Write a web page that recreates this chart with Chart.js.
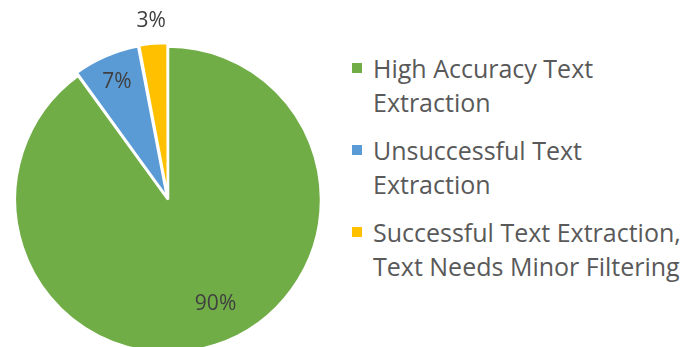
<!DOCTYPE html>
<html>
<head>
<meta charset="utf-8">
<script src="https://cdn.jsdelivr.net/npm/chart.js@4/dist/chart.umd.min.js"></script>
<style>
  html, body { margin: 0; padding: 0; background: #fff; overflow: hidden; width: 686px; height: 347px; }
  #pie-box { position: absolute; left: 0; top: 0; width: 336px; height: 399px; }
  #legend { position: absolute; left: 352px; top: 51px; font-family: "Open Sans", sans-serif; font-size: 25px; color: #595959; white-space: nowrap; }
  .item { position: relative; padding-left: 21px; line-height: 34px; margin-bottom: 14px; }
  .swatch { position: absolute; left: 0; top: 12px; width: 10px; height: 10px; }
</style>
</head>
<body>
<div id="pie-box"><canvas id="pie-chart"></canvas></div>
<div id="legend"></div>
<script>
// Data
const categories = [
    ['High Accuracy Text', 'Extraction'],
    ['Unsuccessful Text', 'Extraction'],
    ['Successful Text Extraction,', 'Text Needs Minor Filtering']
];
const shares = [90, 7, 3];
const colors = ['#70AD47', '#5B9BD5', '#FFC000'];


// Legend (wrapped lines, like the original)
const legend = document.getElementById('legend');
categories.forEach((lines, i) => {
    const item = document.createElement('div');
    item.className = 'item';
    item.innerHTML = `<span class="swatch" style="background:${colors[i]}"></span>` + lines.join('<br>');
    legend.appendChild(item);
});


// Percent labels: distance from centre (x radius) and where along the slice (0..1)
const labelRadius = [0.75, 0.84, 1.17];
const labelAlong = [0.48, 0.5, 0.5];
const percentLabels = {
    id: 'percentLabels',
    afterDatasetsDraw(chart) {
        const ctx = chart.ctx;
        const meta = chart.getDatasetMeta(0);
        const total = shares.reduce((a, b) => a + b, 0);
        ctx.save();
        ctx.font = '21px "Open Sans", sans-serif';
        ctx.fillStyle = '#404040';
        ctx.textAlign = 'center';
        ctx.textBaseline = 'middle';
        meta.data.forEach((arc, i) => {
            const p = arc.getProps(['x', 'y', 'startAngle', 'endAngle', 'outerRadius'], true);
            const a = p.startAngle + (p.endAngle - p.startAngle) * labelAlong[i];
            const r = p.outerRadius * labelRadius[i];
            const txt = Math.round(shares[i] / total * 100) + '%';
            ctx.fillText(txt, p.x + Math.cos(a) * r, p.y + Math.sin(a) * r);
        });
        ctx.restore();
    }
};

new Chart(document.getElementById('pie-chart'), {
    type: 'pie',
    data: {
        labels: categories.map(l => l.join(' ')),
        datasets: [{
            data: shares,
            backgroundColor: colors,
            borderColor: '#fff',
            borderWidth: 2.5,
            offset: [0, 8, 8],
            radius: 153
        }]
    },
    options: {
        responsive: true,
        maintainAspectRatio: false,
        animation: false,
        layout: { padding: 0 },
        plugins: {
            legend: { display: false },
            tooltip: { enabled: false }
        }
    },
    plugins: [percentLabels]
});
</script>
</body>
</html>
